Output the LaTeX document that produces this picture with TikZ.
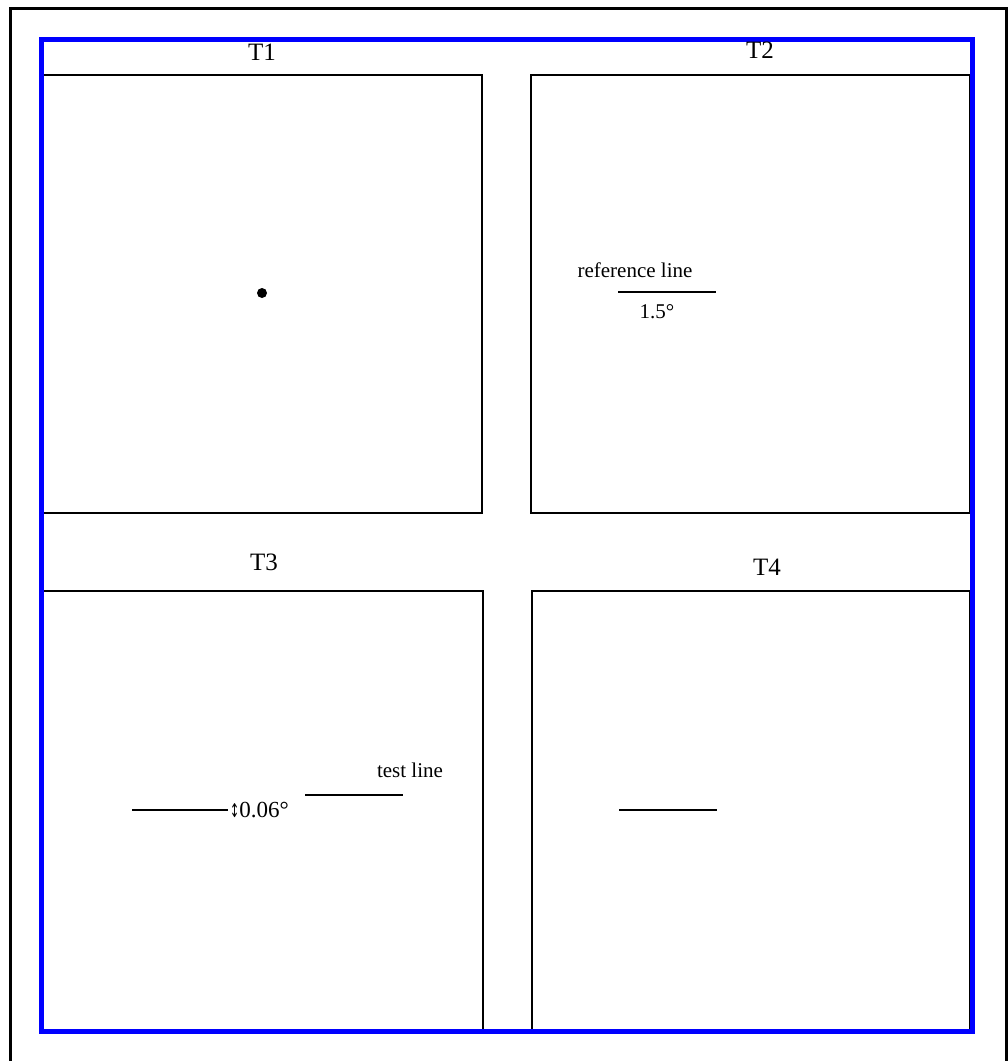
\documentclass[tikz,border=0pt]{standalone}
\usepackage{fontspec}
\setmainfont{Liberation Serif}
\newfontfamily\symfont{DejaVu Sans}
\usetikzlibrary{positioning}

\begin{document}
\begin{tikzpicture}[x=1pt, y=-1pt, line width=1.6pt,
    panel/.style={draw, rectangle, anchor=north west, inner sep=0pt},
    title/.style={font=\fontsize{25}{30}\selectfont, inner sep=0pt, anchor=base},
    note/.style={font=\fontsize{21}{25}\selectfont, inner sep=0pt, anchor=base}]
    \useasboundingbox (0,0) rectangle (1008,1061);
    \draw[line width=3pt] (10,8) rectangle (1006,1066);

    % the four panels
    \node[panel, minimum width=439pt, minimum height=438pt] (T1) at (42,74) {};
    \node[panel, minimum width=439pt, minimum height=438pt] (T2) at (530,74) {};
    \node[panel, minimum width=440pt, minimum height=441pt] (T3) at (42,590) {};
    \node[panel, minimum width=438pt, minimum height=441pt] (T4) at (531,590) {};
    \draw[blue, line width=5pt] (41.5,39) rectangle (972,1031);

    \node[title] (t1) at (262,60) {T1};
    \node[title] (t2) at (760,58) {T2};
    \node[title] (t3) at (264,570) {T3};
    \node[title] (t4) at (767,575) {T4};

    % T1: fixation point
    \fill (262,293) circle (5pt);

    % T2: reference line
    \coordinate (r1) at (618,292);
    \coordinate (r2) at (716,292);
    \draw (r1) -- (r2);
    \node[note] (reflabel) at (635,277) {reference line};
    \node[note] (refangle) at (657,318) {1.5°};

    % T3: test line
    \coordinate (a1) at (132,810);
    \coordinate (a2) at (228,810);
    \draw (a1) -- (a2);
    \node[note, font=\fontsize{23}{27}\selectfont, anchor=base west] (offset) at (229,817)
        {\scalebox{0.6}[1]{\symfont\fontsize{19}{22}\selectfont ↕}0.06°};
    \coordinate (b1) at (305,795);
    \coordinate (b2) at (403,795);
    \draw (b1) -- (b2);
    \node[note] (testlabel) at (410,777) {test line};

    % T4: line alone
    \coordinate (c1) at (619,810);
    \coordinate (c2) at (717,810);
    \draw (c1) -- (c2);
\end{tikzpicture}
\end{document}
